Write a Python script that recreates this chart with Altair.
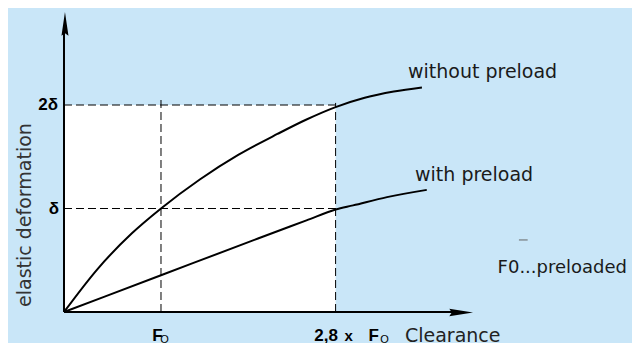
import altair as alt
import pandas as pd

# ---- data (x in multiples of F0, y in multiples of delta) ----
without_x = [0, 0.35, 0.7, 1.0, 1.4, 1.8, 2.2, 2.5, 2.8, 3.1, 3.4, 3.69]
without_y = [0, 0.42, 0.76, 1.0, 1.28, 1.52, 1.72, 1.86, 1.98, 2.07, 2.13, 2.17]
with_x = [0, 1.0, 2.0, 2.5, 2.8, 2.98, 3.33, 3.74]
with_y = [0, 0.355, 0.71, 0.885, 0.99, 1.03, 1.11, 1.18]

ref_x = [1.0, 2.8]          # F0 and 2,8 x F0
ref_y = [1.0, 2.0]          # delta and 2 delta

W, H = 624, 335
xs = alt.Scale(domain=[-0.5773, 5.8557], nice=False, zero=False)
ys = alt.Scale(domain=[-0.2995, 2.9372], nice=False, zero=False)


def X(f="x"):
    return alt.X(f, type="quantitative", scale=xs, axis=None)


def Y(f="y"):
    return alt.Y(f, type="quantitative", scale=ys, axis=None)


curves = pd.DataFrame(
    {"x": without_x + with_x,
     "y": without_y + with_y,
     "series": ["without preload"] * len(without_x) + ["with preload"] * len(with_x)}
)

white = alt.Chart(pd.DataFrame({"x": [0], "x2": [ref_x[1]], "y": [0], "y2": [ref_y[1]]})).mark_rect(
    color="white"
).encode(x=X(), x2="x2", y=Y(), y2="y2")

dashes = pd.DataFrame({
    "x": [0, 0, ref_x[0], ref_x[1]],
    "x2": [ref_x[1], ref_x[1], ref_x[0], ref_x[1]],
    "y": [ref_y[1], ref_y[0], 0, 0],
    "y2": [ref_y[1], ref_y[0], 2.07, 2.02],
})
dash_rules = alt.Chart(dashes).mark_rule(color="black", strokeWidth=1, strokeDash=[8, 4]).encode(
    x=X(), x2="x2", y=Y(), y2="y2"
)

axes = pd.DataFrame({"x": [0, 0], "x2": [0, 4.1], "y": [0, 0], "y2": [2.75, 0]})
axis_rules = alt.Chart(axes).mark_rule(color="black", strokeWidth=2).encode(
    x=X(), x2="x2", y=Y(), y2="y2"
)

arrow_up = alt.Chart(pd.DataFrame({"x": [0.01], "y": [2.778]})).mark_point(
    shape="M0,-1L0.28,0.9L0,0.7L-0.28,0.9Z", size=625, filled=True, color="black", opacity=1
).encode(x=X(), y=Y())
arrow_right = alt.Chart(pd.DataFrame({"x": [4.088], "y": [-0.005]})).mark_point(
    shape="M1,0L-0.9,0.3L-0.7,0L-0.9,-0.3Z", size=625, filled=True, color="black", opacity=1
).encode(x=X(), y=Y())

lines = alt.Chart(curves).mark_line(interpolate="monotone", color="black", strokeWidth=2).encode(
    x=X(), y=Y(), detail="series:N"
)

small_dash = alt.Chart(pd.DataFrame({"x": [4.69], "x2": [4.78], "y": [0.696]})).mark_rule(
    color="#666", strokeWidth=1
).encode(x=X(), x2="x2", y=Y())

# ---- text ----
LBL_FONT = "DejaVu Sans"
TICK_FONT = "Liberation Sans"


def txt(t, x, y, dx=0, size=19, font=LBL_FONT, weight="normal", color="#1a1a1a",
        align="left", baseline="alphabetic", angle=0):
    return alt.Chart(pd.DataFrame({"x": [x], "y": [y], "t": [t]})).mark_text(
        align=align, baseline=baseline, dx=dx, font=font, fontSize=size,
        fontWeight=weight, color=color, angle=angle
    ).encode(x=X(), y=Y(), text="t:N")


texts = [
    txt("without preload", 3.546, 2.261),
    txt("with preload", 3.619, 1.266),
    txt("F0...preloaded", 4.47, 0.377, size=18),
    txt("Clearance", 3.515, -0.290, color="#222222"),
    txt("elastic deformation", -0.402, 0.937, color="#333333", align="center",
        baseline="middle", angle=270),
    # y tick labels
    txt("2δ", 0, ref_y[1], dx=-6, size=17, font=TICK_FONT, weight="bold", color="black",
        align="right", baseline="middle"),
    txt("δ", 0, ref_y[0], dx=-5, size=17, font=TICK_FONT, weight="bold", color="black",
        align="right", baseline="middle"),
    # x tick labels
    txt("F", ref_x[0], -0.28, dx=-3.5, size=17, font=TICK_FONT, weight="bold", color="black",
        align="center"),
    txt("O", ref_x[0], -0.295, dx=3.5, size=11, font=TICK_FONT, color="black", align="center"),
    txt("2,8", ref_x[1], -0.28, dx=-9.5, size=17, font=TICK_FONT, weight="bold", color="black",
        align="center"),
    txt("x", ref_x[1], -0.28, dx=13, size=15, font=TICK_FONT, weight="bold", color="black",
        align="center"),
    txt("F", ref_x[1], -0.28, dx=38, size=17, font=TICK_FONT, weight="bold", color="black",
        align="center"),
    txt("O", ref_x[1], -0.295, dx=49, size=11, font=TICK_FONT, color="black", align="center"),
]

chart = alt.layer(
    white, dash_rules, lines, axis_rules, arrow_up, arrow_right, small_dash, *texts
).properties(
    width=W, height=H, background="#c9e6f8", padding=0, autosize=alt.AutoSizeParams(type="none")
).configure_view(stroke=None)

chart.save("out.html", embed_options={"renderer": "svg", "actions": False})
